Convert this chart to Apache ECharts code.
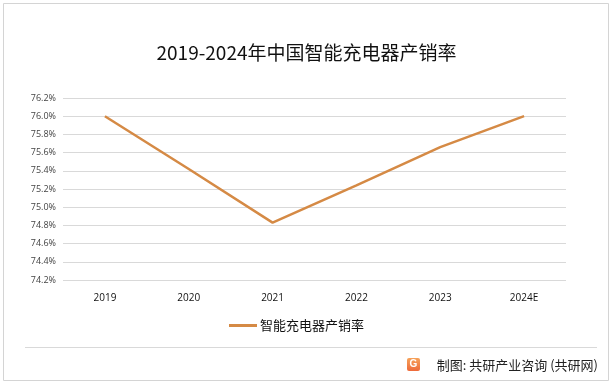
<!DOCTYPE html>
<html><head><meta charset="utf-8">
<script src="https://cdn.jsdelivr.net/npm/echarts@6/dist/echarts.min.js"></script>
<style>html,body{margin:0;padding:0;background:#fff}#c{width:613px;height:384px}</style>
</head><body><div id="c"></div>
<script>
var categories = ['2019','2020','2021','2022','2023','2024E'];
var salesRate = [76.0, 75.42, 74.83, 75.24, 75.66, 76.0];
var yTicks = [74.2, 76.2, 0.2];
var seriesName = '智能充电器产销率';
var titleText = '2019-2024年中国智能充电器产销率';
var sourceText = '制图: 共研产业咨询 (共研网)';

var chart = echarts.init(document.getElementById('c'), null, {renderer:'canvas'});
chart.setOption({
  animation:false,
  backgroundColor:'#fff',
  title:{text:titleText,left:'center',top:38,textStyle:{fontFamily:'"Noto Sans CJK SC","Noto Sans",sans-serif',fontSize:19,fontWeight:'normal',color:'#111'}},
  grid:{left:63,right:47,top:98,bottom:104},
  xAxis:{type:'category',data:categories,boundaryGap:true,
    axisLine:{show:false},axisTick:{show:false},
    axisLabel:{margin:13,fontSize:10,color:'#111',fontFamily:'"Open Sans","Noto Sans",sans-serif'}},
  yAxis:{type:'value',min:yTicks[0],max:yTicks[1],interval:yTicks[2],
    axisLine:{show:false},axisTick:{show:false},
    splitLine:{lineStyle:{color:'#d9d9d9',width:1}},
    axisLabel:{margin:7,fontSize:9,color:'#444',fontFamily:'"Open Sans","Noto Sans",sans-serif',formatter:function(v){return v.toFixed(1)+'%';}}},
  legend:{top:314,left:224,itemWidth:28,itemHeight:3,itemGap:4,icon:'rect',
    textStyle:{fontSize:13,color:'#111',padding:[0,0,0,-2],fontFamily:'"Noto Sans CJK SC",sans-serif'},data:[seriesName]},
  series:[{name:seriesName,type:'line',data:salesRate,symbol:'none',
    lineStyle:{color:'#d58a45',width:2.5},itemStyle:{color:'#d58a45'}}],
  graphic:[
    {type:'rect',shape:{x:3.5,y:3.5,width:605,height:377},style:{fill:null,stroke:'#d4d4d4',lineWidth:1},silent:true},
    {type:'line',shape:{x1:25,y1:347.5,x2:597,y2:347.5},style:{stroke:'#d9d9d9',lineWidth:1},silent:true},
    {type:'rect',shape:{x:407,y:358,width:13,height:13,r:2},style:{fill:new echarts.graphic.LinearGradient(0,0,0,1,[{offset:0,color:'#f6a25a'},{offset:1,color:'#ee6a3a'}])},silent:true},
    {type:'text',style:{x:413.5,y:364.5,text:'G',fill:'#fff',font:'bold 10px sans-serif',align:'center',verticalAlign:'middle'},silent:true},
    {type:'text',style:{x:598,y:365,text:sourceText,fill:'#222',font:'13px "Noto Sans CJK SC",sans-serif',align:'right',verticalAlign:'middle'},silent:true}
  ]
});
</script></body></html>
